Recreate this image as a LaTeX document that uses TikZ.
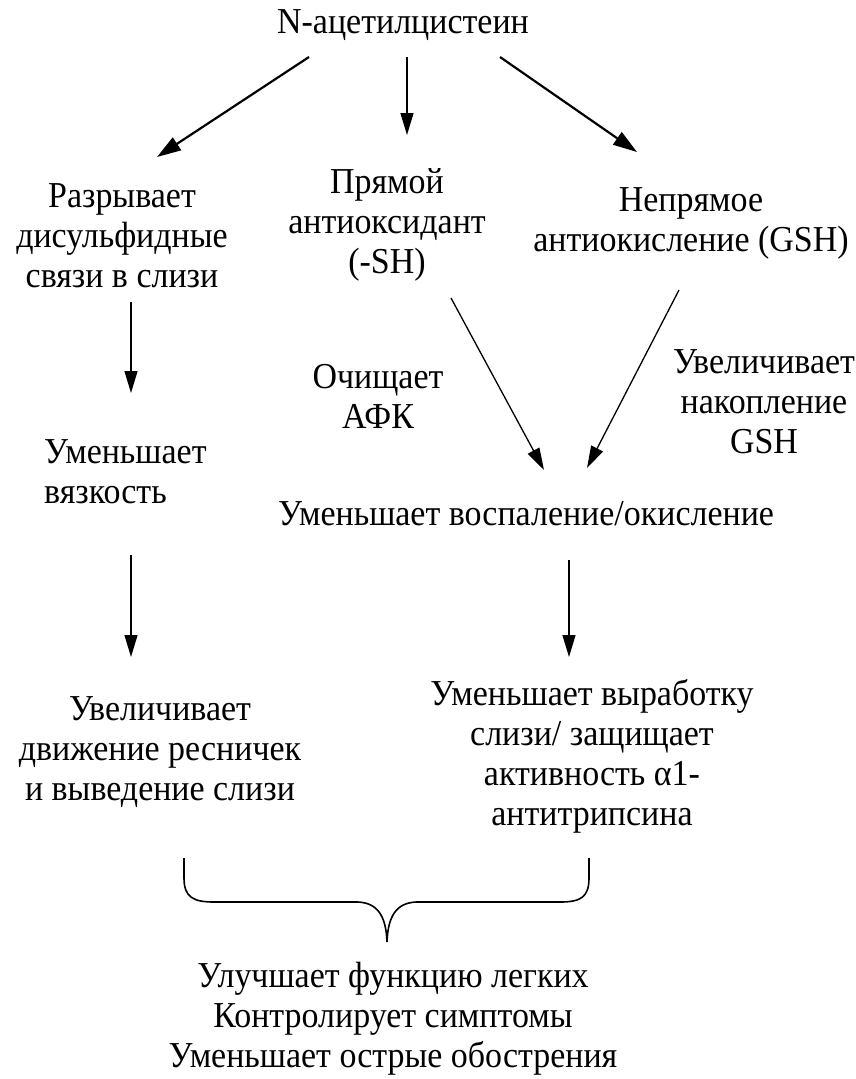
\documentclass[tikz,border=0pt]{standalone}
\usepackage{fontspec}
\setmainfont{Liberation Serif}[FakeStretch=0.93]
\usetikzlibrary{arrows.meta}
\begin{document}
\begin{tikzpicture}[x=1pt,y=-1pt,
  txt/.style={font=\fontsize{36.5}{40}\selectfont, align=center, inner sep=0pt},
  arr/.style={-{Triangle[length=22pt,width=13pt]}, line width=1.3pt},
  arrb/.style={-{Triangle[length=24pt,width=15pt]}, line width=2.2pt},
  brace/.style={line width=1.6pt}]
\path[use as bounding box, fill=white] (0,0) rectangle (856,1079);
% nodes
\node[txt] (nac) at (403,25) {N-ацетилцистеин};
\node[txt] (raz) at (122,236) {Разрывает\\дисульфидные\\связи в слизи};
\node[txt] (pry) at (387,225) {Прямой\\антиоксидант\\(-SH)};
\node[txt] (nep) at (691,223) {Непрямое\\антиокисление (GSH)};
\node[txt, align=left, anchor=west] (vyaz) at (44,472) {Уменьшает\\вязкость};
\node[txt] (och) at (378,396) {Очищает\\АФК};
\node[txt] (uvn) at (764,402) {Увеличивает\\накопление\\GSH};
\node[txt] (vos) at (526,514) {Уменьшает воспаление/окисление};
\node[txt] (dvi) at (160,752) {Увеличивает\\движение ресничек\\и выведение слизи};
\node[txt] (vyr) at (592,756) {Уменьшает выработку\\слизи/ защищает\\активность α1-\\антитрипсина};
\node[txt] (res) at (393,1019) {Улучшает функцию легких\\Контролирует симптомы\\Уменьшает острые обострения};
% arrow end points
\coordinate (a1s) at (309,57);  \coordinate (a1e) at (157,157);
\coordinate (a2s) at (407,57);  \coordinate (a2e) at (407,135);
\coordinate (a3s) at (500,57);  \coordinate (a3e) at (637,152);
\coordinate (a4s) at (131,302); \coordinate (a4e) at (131,393);
\coordinate (a5s) at (451,298); \coordinate (a5e) at (544,470);
\coordinate (a6s) at (679,290); \coordinate (a6e) at (587,468);
\coordinate (a7s) at (131,555); \coordinate (a7e) at (131,657);
\coordinate (a8s) at (569,560); \coordinate (a8e) at (569,657);
\draw[arrb] (a1s) -- (a1e);
\draw[arr]  (a2s) -- (a2e);
\draw[arrb] (a3s) -- (a3e);
\draw[arr]  (a4s) -- (a4e);
\draw[arr]  (a5s) -- (a5e);
\draw[arr]  (a6s) -- (a6e);
\draw[arr]  (a7s) -- (a7e);
\draw[arr]  (a8s) -- (a8e);
% brace
\coordinate (bl) at (184,858);
\coordinate (br) at (589,858);
\coordinate (bt) at (387,942);
\draw[brace] (bl) -- (184,878) .. controls (184,897) and (193,902) .. (214,902)
  -- (358,902) .. controls (377,903) and (386,915) .. (bt)
  .. controls (388,915) and (397,903) .. (416,902)
  -- (560,902) .. controls (581,902) and (589,897) .. (589,878) -- (br);
\end{tikzpicture}
\end{document}
